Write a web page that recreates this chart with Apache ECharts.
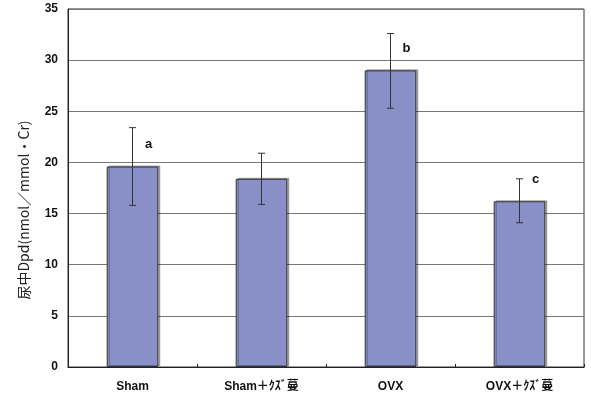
<!DOCTYPE html>
<html>
<head>
<meta charset="utf-8">
<script src="https://cdn.jsdelivr.net/npm/echarts@6/dist/echarts.min.js"></script>
<style>
  html, body { margin: 0; padding: 0; background: #fff; }
  #chart { width: 591px; height: 403px; }
</style>
</head>
<body>
<div id="chart"></div>
<script>
// Urinary Dpd by treatment group: mean with error range and significance letters
const categories = ['Sham', 'Sham＋ｸｽﾞ蔓', 'OVX', 'OVX＋ｸｽﾞ蔓'];
const means = [19.6, 18.4, 29.0, 16.2];
const errLow = [15.8, 15.9, 25.3, 14.1];
const errHigh = [23.4, 20.9, 32.6, 18.4];
const letters = ['a', '', 'b', 'c'];
const yTicks = [0, 5, 10, 15, 20, 25, 30, 35];
const yAxisTitle = '尿中Dpd(nmol／mmol・Cr)';

const boldFont = '"Liberation Sans", Arial, "Noto Sans CJK JP", sans-serif';

const chart = echarts.init(document.getElementById('chart'), null, { renderer: 'canvas' });

chart.setOption({
  animation: false,
  backgroundColor: '#ffffff',
  grid: {
    left: 68, right: 7, top: 9, bottom: 36,
    show: true, borderColor: '#333', borderWidth: 1, backgroundColor: 'transparent'
  },
  xAxis: {
    type: 'category',
    data: categories,
    boundaryGap: true,
    axisLine: { lineStyle: { color: '#222', width: 1 } },
    axisTick: { show: true, inside: true, length: 3, alignWithLabel: false, lineStyle: { color: '#222' } },
    axisLabel: {
      margin: 14, fontSize: 12, fontWeight: 'bold', color: '#111', fontFamily: boldFont
    }
  },
  yAxis: {
    type: 'value',
    min: yTicks[0],
    max: yTicks[yTicks.length - 1],
    interval: 5,
    axisLine: { show: true, lineStyle: { color: '#222', width: 1 } },
    axisTick: { show: false },
    axisLabel: { margin: 10, fontSize: 12, fontWeight: 'bold', color: '#111', fontFamily: boldFont },
    splitLine: { show: true, lineStyle: { color: '#777', width: 1 } }
  },
  graphic: [{
    type: 'text',
    x: 24,
    y: 210,
    rotation: Math.PI / 2,
    style: {
      text: yAxisTitle,
      fontSize: 14,
      fill: '#222',
      align: 'center',
      verticalAlign: 'middle',
      fontFamily: '"Noto Sans CJK JP", "Liberation Sans", sans-serif'
    }
  }],
  series: [
    {
      type: 'bar',
      data: means,
      barWidth: '40%',
      itemStyle: {
        color: '#8990c8',
        borderColor: '#333',
        borderWidth: 1,
        shadowColor: 'rgba(0,0,0,0.3)',
        shadowOffsetX: 2,
        shadowOffsetY: -1,
        shadowBlur: 0
      },
      z: 2
    },
    {
      // error bars with caps
      type: 'custom',
      z: 5,
      data: means.map((m, i) => [i, errLow[i], errHigh[i]]),
      renderItem: function (params, api) {
        const i = api.value(0);
        const lo = api.coord([i, api.value(1)]);
        const hi = api.coord([i, api.value(2)]);
        const cap = 3.5;
        const st = { stroke: '#333', lineWidth: 1 };
        return {
          type: 'group',
          children: [
            { type: 'line', shape: { x1: lo[0], y1: lo[1], x2: hi[0], y2: hi[1] }, style: st },
            { type: 'line', shape: { x1: lo[0] - cap, y1: lo[1], x2: lo[0] + cap, y2: lo[1] }, style: st },
            { type: 'line', shape: { x1: hi[0] - cap, y1: hi[1], x2: hi[0] + cap, y2: hi[1] }, style: st }
          ]
        };
      }
    },
    {
      // significance letters above each bar
      type: 'custom',
      z: 6,
      data: means.map((m, i) => [i, m]),
      renderItem: function (params, api) {
        const i = api.value(0);
        const t = letters[params.dataIndex];
        if (!t) return null;
        const p = api.coord([i, api.value(1)]);
        return {
          type: 'text',
          x: p[0] + 16,
          y: p[1] - 22,
          style: {
            text: t,
            fontSize: 13,
            fontWeight: 'bold',
            fill: '#111',
            fontFamily: boldFont,
            align: 'center',
            verticalAlign: 'middle'
          }
        };
      }
    }
  ]
});
</script>
</body>
</html>
